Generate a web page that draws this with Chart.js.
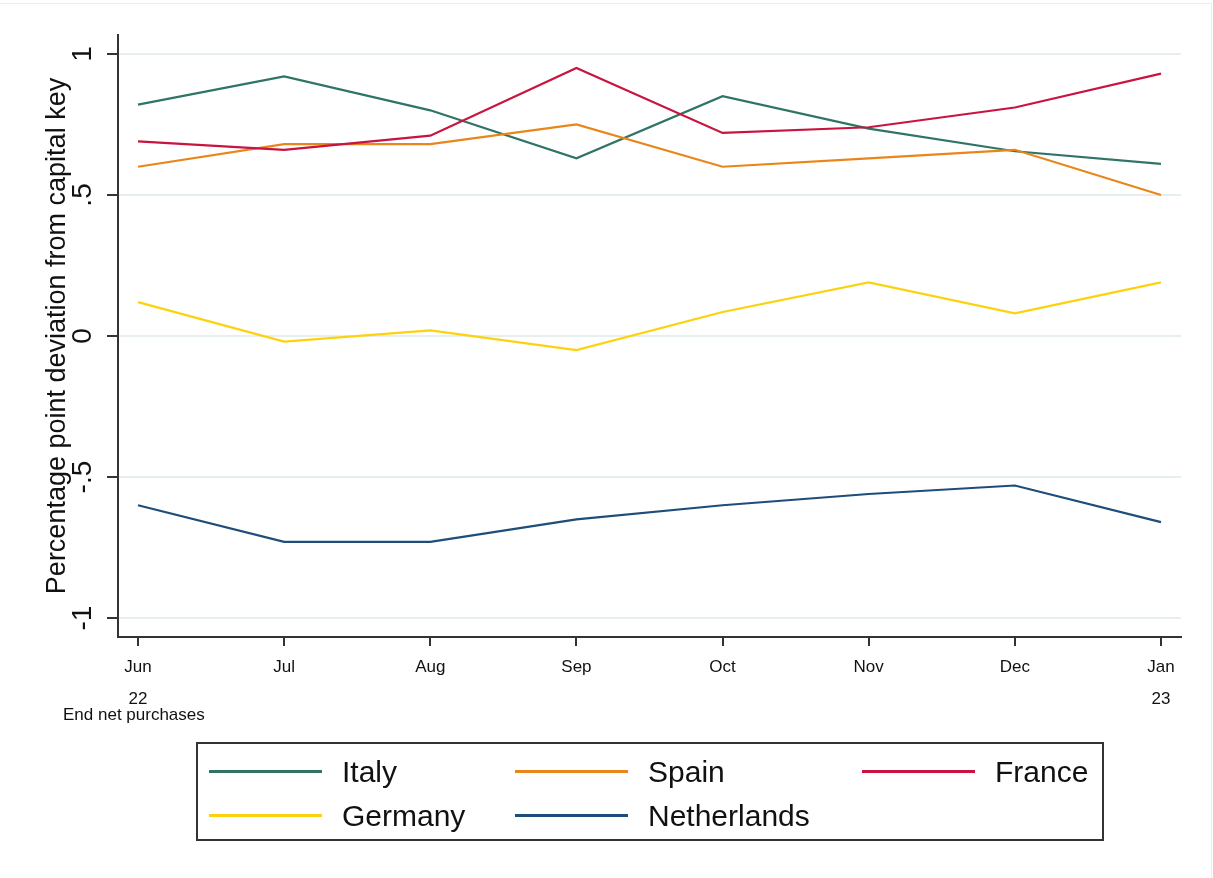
<!DOCTYPE html>
<html>
<head>
<meta charset="utf-8">
<script src="https://cdn.jsdelivr.net/npm/chart.js@4.4.1/dist/chart.umd.min.js"></script>
<style>
  html, body { margin: 0; padding: 0; background: #fff; }
  body { width: 1213px; height: 878px; position: relative; overflow: hidden; font-family: 'Liberation Sans', Arial, sans-serif; }
  #wrap { position: absolute; left: 0; top: 0; width: 1213px; height: 878px; }
  #frame { position: absolute; left: 0; top: 3px; width: 1211px; height: 880px; border-top: 1px solid #ececec; border-right: 1px solid #ececec; pointer-events: none; }
  #note { position: absolute; left: 63px; top: 706px; font-size: 17px; line-height: 18px; color: #111; white-space: nowrap; }
  #legend { position: absolute; left: 196px; top: 742px; width: 904px; height: 95px; border: 2px solid #333; background: #fff; }
  .item { position: absolute; height: 36px; }
  .swatch { position: absolute; top: 16px; width: 113px; height: 3px; }
  .lbl { position: absolute; left: 133px; top: 0; font-size: 30px; line-height: 36px; color: #111; white-space: nowrap; }
</style>
</head>
<body>
<div id="wrap"><canvas id="c" width="1213" height="878"></canvas></div>
<div id="frame"></div>
<div id="note">End net purchases</div>
<div id="legend"></div>
<script>
// ---- data ----
const months = ['Jun', 'Jul', 'Aug', 'Sep', 'Oct', 'Nov', 'Dec', 'Jan'];
const years = ['22', '', '', '', '', '', '', '23'];
const yTickValues = [-1, -0.5, 0, 0.5, 1];
const yTickLabels = ['-1', '-.5', '0', '.5', '1'];
const yTitle = 'Percentage point deviation from capital key';
const seriesNames = ['Italy', 'Spain', 'France', 'Germany', 'Netherlands'];
const italy = [0.82, 0.92, 0.80, 0.63, 0.85, 0.735, 0.655, 0.61];
const spain = [0.60, 0.68, 0.68, 0.75, 0.60, 0.63, 0.66, 0.50];
const france = [0.69, 0.66, 0.71, 0.95, 0.72, 0.74, 0.81, 0.93];
const germany = [0.12, -0.02, 0.02, -0.05, 0.085, 0.19, 0.08, 0.19];
const netherlands = [-0.60, -0.73, -0.73, -0.65, -0.60, -0.56, -0.53, -0.66];
const seriesColors = ['#2f7466', '#e8861a', '#c8143f', '#fcd20f', '#1f4d7a'];

const allSeries = [italy, spain, france, germany, netherlands];
const datasets = allSeries.map((vals, i) => ({
  label: seriesNames[i],
  data: vals.map((v, k) => ({ x: k, y: v })),
  borderColor: seriesColors[i],
  backgroundColor: seriesColors[i],
  borderWidth: 2.2,
  pointRadius: 0,
  tension: 0,
  fill: false,
  order: seriesNames.length - i
}));

const FONT = "'Liberation Sans', Arial, sans-serif";
const NARROW = "'Liberation Sans Narrow', 'Arial Narrow', 'Liberation Sans', Arial, sans-serif";

new Chart(document.getElementById('c'), {
  type: 'line',
  data: { datasets },
  options: {
    responsive: false,
    animation: false,
    layout: { padding: { left: 0, top: 35, right: 32, bottom: 141 } },
    plugins: { legend: { display: false }, tooltip: { enabled: false }, title: { display: false } },
    scales: {
      x: {
        type: 'linear',
        min: -0.137,
        max: 7.137,
        afterBuildTicks: (s) => { s.ticks = months.map((m, i) => ({ value: i })); },
        afterFit: (s) => { s.height = 100; },
        ticks: {
          autoSkip: false,
          maxRotation: 0,
          minRotation: 0,
          padding: 5,
          color: '#111',
          font: { family: FONT, size: 17, lineHeight: 1.9 },
          callback: (v, i) => [months[i], years[i]]
        },
        grid: { display: true, drawOnChartArea: false, drawTicks: true, tickLength: 9, color: '#333', tickColor: '#333', lineWidth: 2 },
        border: { display: true, color: '#333', width: 2 }
      },
      y: {
        type: 'linear',
        min: -1.067,
        max: 1.067,
        afterBuildTicks: (s) => { s.ticks = yTickValues.map(v => ({ value: v })); },
        afterFit: (s) => { s.width = 118; },
        ticks: {
          minRotation: 90,
          maxRotation: 90,
          crossAlign: 'center',
          padding: 7,
          color: '#111',
          font: { family: NARROW, size: 28 },
          callback: (v) => yTickLabels[yTickValues.indexOf(v)]
        },
        grid: { color: '#e6eef0', lineWidth: 2, tickLength: 11, tickColor: '#333', tickWidth: 2 },
        border: { display: true, color: '#333', width: 2 },
        title: {
          display: true,
          text: yTitle,
          color: '#111',
          font: { family: FONT, size: 27 },
          padding: { top: 41, bottom: 0 }
        }
      }
    }
  }
});

// ---- legend (HTML) ----
const legend = document.getElementById('legend');
const legendPos = [[11, 12], [317, 12], [664, 12], [11, 56], [317, 56]];
seriesNames.forEach((name, i) => {
  const it = document.createElement('div');
  it.className = 'item';
  it.style.left = legendPos[i][0] + 'px';
  it.style.top = (legendPos[i][1] - 2) + 'px';
  const sw = document.createElement('div');
  sw.className = 'swatch';
  sw.style.background = seriesColors[i];
  const lb = document.createElement('div');
  lb.className = 'lbl';
  lb.textContent = name;
  it.appendChild(sw); it.appendChild(lb);
  legend.appendChild(it);
});
</script>
</body>
</html>
